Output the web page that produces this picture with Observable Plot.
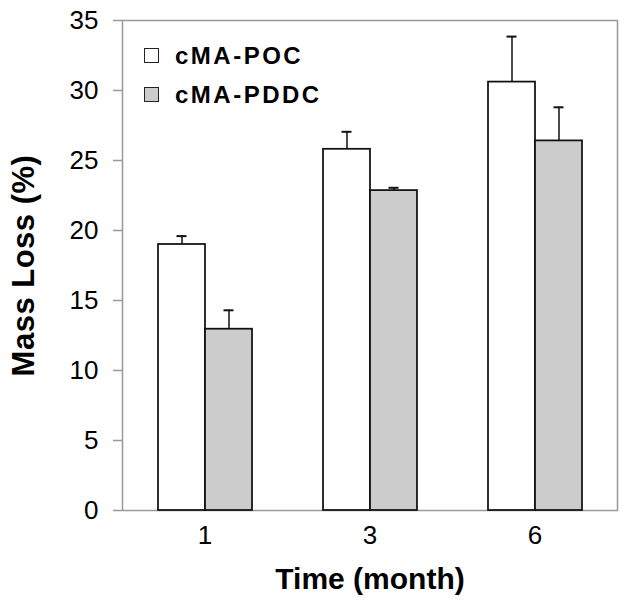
<!DOCTYPE html>
<html>
<head>
<meta charset="utf-8">
<script src="https://cdn.jsdelivr.net/npm/d3@7"></script>
<script src="https://cdn.jsdelivr.net/npm/@observablehq/plot@0.6"></script>
<style>
  html, body { margin: 0; padding: 0; background: #fff; }
  #wrap { position: relative; width: 629px; height: 610px; font-family: "Liberation Sans", Arial, sans-serif; }
  #wrap svg [aria-label="y-axis label"] text { font-weight: bold; font-size: 31px; letter-spacing: 0.5px; }
  #wrap svg [aria-label="fx-axis label"] text { font-weight: bold; font-size: 30px; }
  .legend { position: absolute; left: 144px; top: 36px; }
  .legend .item { display: flex; align-items: center; height: 39px; font-weight: bold; font-size: 24px; letter-spacing: 2.5px; color: #000; }
  .legend .sw { width: 15px; height: 15px; border: 1.5px solid #222; margin-right: 16px; box-sizing: border-box; }
</style>
</head>
<body>
<div id="wrap"></div>
<script>
const times = ["1", "3", "6"];
const series = ["cMA-POC", "cMA-PDDC"];
const colors = ["#ffffff", "#cccccc"];
const pocValues = [19.0, 25.8, 30.6];
const pocErrors = [0.6, 1.25, 3.25];
const pddcValues = [12.95, 22.85, 26.4];
const pddcErrors = [1.35, 0.2, 2.4];
const yTicks = [0, 5, 10, 15, 20, 25, 30, 35];

const data = [];
times.forEach((t, i) => {
  data.push({time: t, series: series[0], value: pocValues[i], err: pocErrors[i]});
  data.push({time: t, series: series[1], value: pddcValues[i], err: pddcErrors[i]});
});

const chart = Plot.plot({
  width: 629,
  height: 610,
  marginLeft: 121,
  marginRight: 11,
  marginTop: 20,
  marginBottom: 100,
  style: {fontFamily: "'Liberation Sans', Arial, sans-serif", fontSize: "26px", color: "#000", background: "#fff"},
  fx: {domain: times, padding: 0, label: "Time (month)"},
  x: {domain: series, paddingInner: 0, paddingOuter: 0.72, axis: null},
  y: {domain: [0, 35], ticks: yTicks, label: "Mass Loss (%)"},
  color: {domain: series, range: colors},
  marks: [
    Plot.frame({stroke: "#999", strokeWidth: 1.5, facet: "super"}),
    Plot.axisY({ticks: yTicks, tickSize: 9, tickPadding: 15, stroke: "#999", strokeWidth: 1.5, label: "Mass Loss (%)", labelArrow: "none", labelAnchor: "center", labelOffset: 111}),
    Plot.axisFx({anchor: "bottom", tickSize: 0, tickPadding: 15, label: "Time (month)", labelArrow: "none", labelAnchor: "center", labelOffset: 78}),
    Plot.ruleX(data, {fx: "time", x: "series", y1: "value", y2: d => d.value + d.err, stroke: "#111", strokeWidth: 1.5}),
    Plot.tickY(data, {fx: "time", x: "series", y: d => d.value + d.err, stroke: "#111", strokeWidth: 2, insetLeft: 18.5, insetRight: 18.5}),
    Plot.barY(data, {fx: "time", x: "series", y: "value", fill: "series", stroke: "#111", strokeWidth: 1.75})
  ]
});
const wrap = document.getElementById("wrap");
wrap.appendChild(chart);

const legend = document.createElement("div");
legend.className = "legend";
series.forEach((s, i) => {
  const item = document.createElement("div");
  item.className = "item";
  const sw = document.createElement("span");
  sw.className = "sw";
  sw.style.background = colors[i];
  item.appendChild(sw);
  item.appendChild(document.createTextNode(s));
  legend.appendChild(item);
});
wrap.appendChild(legend);
</script>
</body>
</html>
